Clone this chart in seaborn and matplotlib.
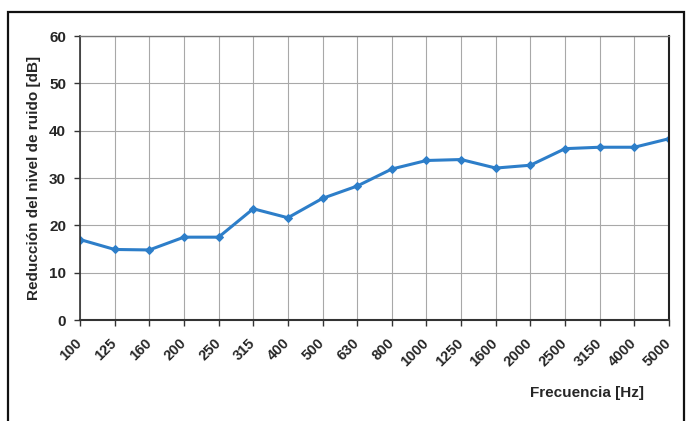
import matplotlib
matplotlib.use("Agg")
import matplotlib.pyplot as plt
import seaborn as sns
import pandas as pd
from matplotlib.patches import Rectangle

freqs = ["100", "125", "160", "200", "250", "315", "400", "500", "630", "800",
         "1000", "1250", "1600", "2000", "2500", "3150", "4000", "5000"]
reduction = [17.0, 14.9, 14.8, 17.5, 17.5, 23.5, 21.6, 25.7, 28.3, 31.9,
             33.7, 33.9, 32.1, 32.7, 36.2, 36.5, 36.5, 38.3]
yticks = [0, 10, 20, 30, 40, 50, 60]

sns.set_theme(style="white")
plt.rcParams['font.family'] = ['Liberation Sans', 'DejaVu Sans']

df = pd.DataFrame({"freq": freqs, "red": reduction})

fig = plt.figure(figsize=(6.86, 4.21), dpi=100)
fig.patch.set_facecolor("white")
ax = fig.add_axes([80/686, 1 - 320/421, 589/686, 284/421])

sns.lineplot(data=df, x="freq", y="red", ax=ax, sort=False, color="#2d7ec9",
             linewidth=2.2, marker="D", markersize=4.5, markeredgecolor="#2d7ec9")

ax.set_xlim(0, len(freqs) - 1)
ax.set_ylim(0, 60)
ax.set_yticks(yticks)
ax.set_xticks(range(len(freqs)))
ax.set_xticklabels(freqs, rotation=45, ha="right", va="center",
                   rotation_mode="anchor", fontsize=10.5, fontweight="bold")
ax.set_yticklabels([str(v) for v in yticks], fontsize=11, fontweight="bold")
ax.grid(True, color="#a8a8a8", linewidth=0.8)
ax.set_axisbelow(True)
ax.tick_params(axis="both", which="both", length=4, width=1, color="#333333",
               direction="out", bottom=True, left=True)
ax.tick_params(axis="x", pad=11)
ax.tick_params(axis="y", pad=6)

ax.spines["top"].set_color("#777777")
ax.spines["top"].set_linewidth(1.0)
ax.spines["right"].set_color("#222222")
ax.spines["right"].set_linewidth(1.5)
ax.spines["bottom"].set_color("#333333")
ax.spines["bottom"].set_linewidth(1.5)
ax.spines["left"].set_color("#333333")
ax.spines["left"].set_linewidth(1.2)

ax.set_xlabel("")
ax.set_ylabel("Reducción del nivel de ruido [dB]", fontsize=11, fontweight="bold",
              labelpad=6)
fig.text(587/686, 1 - 393/421, "Frecuencia [Hz]", ha="center", va="center",
         fontsize=11, fontweight="bold")

fig.patches.append(Rectangle((8/686, -0.02), 676/686, 1 - 12/421 + 0.02,
                             transform=fig.transFigure, fill=False,
                             edgecolor="#111111", linewidth=1.6))

fig.savefig("out.png", dpi=100)
